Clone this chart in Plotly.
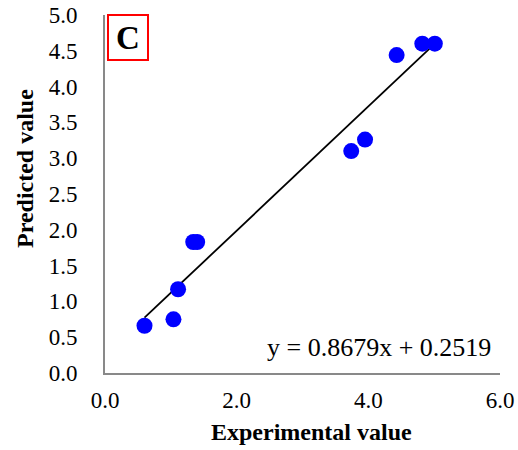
import plotly.graph_objects as go

experimental = [0.60, 1.04, 1.11, 1.34, 1.40, 3.74, 3.95, 4.43, 4.82, 5.01]
predicted = [0.66, 0.75, 1.17, 1.83, 1.83, 3.10, 3.26, 4.44, 4.60, 4.60]
slope = 0.8679
intercept = 0.2519
x_ticks = [0.0, 2.0, 4.0, 6.0]
y_ticks = [0.0, 0.5, 1.0, 1.5, 2.0, 2.5, 3.0, 3.5, 4.0, 4.5, 5.0]
panel_label = "C"
x_title = "Experimental value"
y_title = "Predicted value"

xmin, xmax = min(experimental), max(experimental)

fig = go.Figure()
fig.add_trace(go.Scatter(
    x=[xmin, xmax], y=[slope * xmin + intercept, slope * xmax + intercept],
    mode="lines", line=dict(color="black", width=1.8), showlegend=False))
fig.add_trace(go.Scatter(
    x=experimental, y=predicted, mode="markers",
    marker=dict(color="#0000FF", size=16, line=dict(width=0)),
    showlegend=False, cliponaxis=False))

font_family = "Liberation Serif, Times New Roman, serif"
L, R, T, B = 105, 18, 15, 77
W, H = 518, 450
pw, ph = W - L - R, H - T - B

def px_x(px):
    return (px - L) / pw

def px_y(py):
    return (H - B - py) / ph

fig.update_layout(
    width=W, height=H,
    margin=dict(l=L, r=R, t=T, b=B),
    paper_bgcolor="white", plot_bgcolor="white",
    font=dict(family=font_family, color="black", size=23),
    xaxis=dict(range=[0, 6], tickvals=x_ticks, ticktext=[f"{v:.1f}" for v in x_ticks],
               showgrid=False, zeroline=False, showline=True, linecolor="#898989", linewidth=2,
               ticks="", ticklabelstandoff=5, automargin=False),
    yaxis=dict(range=[0, 5], tickvals=y_ticks, ticktext=[f"{v:.1f}" for v in y_ticks],
               showgrid=False, zeroline=False, showline=True, linecolor="#898989", linewidth=2,
               ticks="", ticklabelstandoff=21, automargin=False),
    annotations=[
        dict(text=f"<b>{x_title}</b>", x=px_x(311.5), y=px_y(432), xref="paper", yref="paper",
             xanchor="center", yanchor="middle", showarrow=False, font=dict(size=24)),
        dict(text=f"<b>{y_title}</b>", x=px_x(25), y=px_y(169), xref="paper", yref="paper",
             xanchor="center", yanchor="middle", showarrow=False, textangle=-90, font=dict(size=24)),
        dict(text=f"y = {slope}x + {intercept}", x=px_x(493), y=px_y(347), xref="paper", yref="paper",
             xanchor="right", yanchor="middle", showarrow=False, font=dict(size=26)),
        dict(text=f"<b>{panel_label}</b>", x=px_x(107), y=px_y(14), xref="paper", yref="paper",
             xanchor="left", yanchor="top", showarrow=False, font=dict(size=33),
             bordercolor="red", borderwidth=2, borderpad=2, width=34, height=39),
    ],
)
fig.write_html("out.html", config={"displayModeBar": False},
               post_script="document.body.style.margin='0';document.body.style.padding='0';")
